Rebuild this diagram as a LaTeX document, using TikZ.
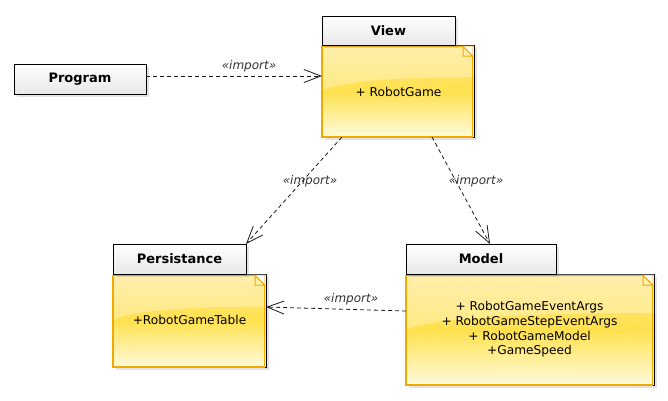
\documentclass[tikz,border=0pt]{standalone}
\usepackage{fontspec}
\setmainfont{DejaVu Sans}
\usetikzlibrary{arrows.meta,shadows,calc}
\definecolor{orangeb}{HTML}{F2A900}
\definecolor{ytop}{HTML}{FFE889}
\definecolor{ymid}{HTML}{FFE14E}
\definecolor{ybot}{HTML}{FFFBDD}
\definecolor{yfold}{HTML}{FFF2AE}
\definecolor{labc}{HTML}{333333}
\tikzset{
  shad/.style={drop shadow={opacity=0.22,shadow xshift=3pt,shadow yshift=-3pt}},
  tabbox/.style={draw=black, line width=0.9pt, top color=white, bottom color=black!9,
    inner sep=0pt, outer sep=0pt, font=\fontsize{13}{15}\selectfont\bfseries, shad},
  bodybox/.style={draw=black, line width=0.9pt, top color=ytop, bottom color=ybot, middle color=ymid,
    inner sep=0pt, outer sep=0pt, shad},
  bodytext/.style={align=center, font=\fontsize{12.2}{14.6}\selectfont, inner sep=0pt},
  dep/.style={draw=black!90, line width=0.8pt, dash pattern=on 4pt off 3pt,
    -{Straight Barb[length=17pt,width=13pt]}},
  deplab/.style={font=\fontsize{12}{14}\selectfont\itshape, text=labc, inner sep=1pt},
}
% gloss and orange border and fold for a body spanning (x1,y1)-(x2,y2)
\newcommand\bodydeco[4]{%
  \fill[white,opacity=0.3] (#1,#2) -- (#3,#2) -- (#3,{#2+0.35*(#4-#2)})
    .. controls ({#1+0.45*(#3-#1)},{#2+0.35*(#4-#2)}) and ({#1+0.1*(#3-#1)},{#2+0.4*(#4-#2)})
    .. (#1,{#2+0.5*(#4-#2)}) -- cycle;
  \draw[orangeb,line width=1.3pt] (#1,{#2+1.3}) rectangle ({#3-1.3},#4);
  \fill[white] ({#3-11},{#2+1.3}) -- ({#3-1.3},{#2+1.3}) -- ({#3-1.3},{#2+11}) -- cycle;
  \filldraw[fill=yfold,draw=orangeb,line width=1pt] ({#3-11},{#2+1.3}) -- ({#3-1.3},{#2+11}) -- ({#3-11},{#2+11}) -- cycle;
}
\begin{document}
\begin{tikzpicture}[x=1pt,y=-1pt]
\useasboundingbox (0,0) rectangle (668,400);

% Program
\node[tabbox, minimum width=132, minimum height=30] (prog) at (80,79) {Program};

% View
\node[bodybox, minimum width=152, minimum height=92] (viewbody) at (398,91) {};
\bodydeco{322}{45}{474}{137}
\node[tabbox, minimum width=133, minimum height=29] (viewtab) at (388.5,30.5) {View};
\node[bodytext] (viewtxt) at (398.5,92) {+ RobotGame};

% Persistance
\node[bodybox, minimum width=153, minimum height=93] (persbody) at (189.5,320.5) {};
\bodydeco{113}{274}{266}{367}
\node[tabbox, minimum width=133, minimum height=30] (perstab) at (179.5,259) {Persistance};
\node[bodytext] (perstxt) at (189.5,320) {+RobotGameTable};

% Model
\node[bodybox, minimum width=248, minimum height=111] (modelbody) at (530,329.5) {};
\bodydeco{406}{274}{654}{385}
\node[tabbox, minimum width=150, minimum height=30] (modeltab) at (481,259) {Model};
\node[bodytext] (modeltxt) at (529.5,329.5) {+ RobotGameEventArgs\\+ RobotGameStepEventArgs\\+ RobotGameModel\\+GameSpeed};

% connectors
\coordinate (pa) at ([yshift=3pt]prog.east);
\draw[dep] (pa) -- (pa -| viewbody.west);
\draw[dep] ([xshift=-56pt]viewbody.south) -- (perstab.north east);
\draw[dep] ([xshift=34pt]viewbody.south) -- ([xshift=9pt]modeltab.north);
\draw[dep] ([yshift=18.5pt]modelbody.west) -- ([yshift=13.5pt]persbody.east);

% labels
\node[deplab] (l1) at (249,66) {«import»};
\node[deplab] (l2) at (310,181) {«import»};
\node[deplab] (l3) at (476,181) {«import»};
\node[deplab] (l4) at (351,299) {«import»};
\end{tikzpicture}
\end{document}
